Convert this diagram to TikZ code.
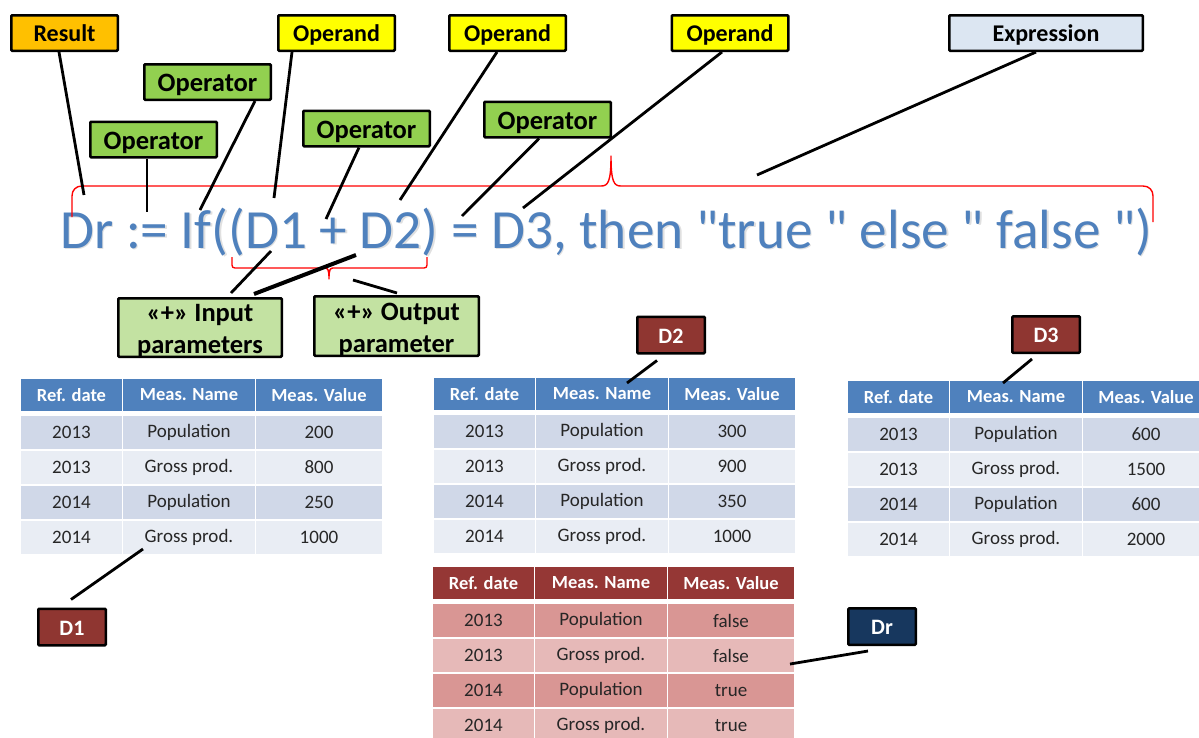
\documentclass[tikz,border=0pt]{standalone}
\usepackage{fontspec}
\setmainfont{Carlito}
\newfontfamily\formulafont{Carlito}[Ligatures=TeXOff]
\usetikzlibrary{calc}

\definecolor{resultOrange}{HTML}{FFC000}
\definecolor{operandYellow}{HTML}{FFFF00}
\definecolor{operatorGreen}{HTML}{92D050}
\definecolor{exprBlue}{HTML}{DCE6F2}
\definecolor{paramGreen}{HTML}{C3E2A2}
\definecolor{dataRed}{HTML}{8F3631}
\definecolor{dataNavy}{HTML}{17375E}
\definecolor{formulaBlue}{HTML}{4F81BD}
\definecolor{blueHead}{HTML}{4F81BD}
\definecolor{blueDark}{HTML}{D0D8E8}
\definecolor{blueLight}{HTML}{E9EDF4}
\definecolor{redHead}{HTML}{953735}
\definecolor{redDark}{HTML}{D99694}
\definecolor{redLight}{HTML}{E6B9B8}
\definecolor{cellText}{HTML}{262626}

% one body row of a data table: #1 table, #2 row, #3 centre y, #4 fill, #5 date, #6 name, #7 value
\newcommand\tabrow[7]{%
  \node[cell, fill=#4, minimum width=101pt] (#1-#2-1) at (50.5,#3) {#5};
  \node[cell, fill=#4, minimum width=132pt] (#1-#2-2) at (168,#3) {#6};
  \node[cell, fill=#4, minimum width=126pt] (#1-#2-3) at (298,#3) {#7};
}
% a whole data table: #1 name, #2 left, #3 top, #4 palette, #5-#8 measure values
\newcommand\datatable[8]{%
  \begin{scope}[shift={(#2,#3)}]
    \node[head, fill=#4Head, minimum width=101pt] (#1-0-1) at (50.5,16) {Ref. date};
    \node[head, fill=#4Head, minimum width=132pt] (#1-0-2) at (168,16) {Meas. Name};
    \node[head, fill=#4Head, minimum width=126pt] (#1-0-3) at (298,16) {Meas. Value};
    \tabrow{#1}{1}{53.5}{#4Dark}{2013}{Population}{#5}
    \tabrow{#1}{2}{88.5}{#4Light}{2013}{Gross prod.}{#6}
    \tabrow{#1}{3}{123.5}{#4Dark}{2014}{Population}{#7}
    \tabrow{#1}{4}{158.5}{#4Light}{2014}{Gross prod.}{#8}
  \end{scope}%
}

\begin{document}
\begin{tikzpicture}[x=1pt,y=-1pt,
  tag/.style={draw=black, line width=2.5pt, rounded corners=1pt, inner sep=0pt,
    minimum height=35.5pt, text height=17.5pt, text depth=0pt,
    font=\bfseries\fontsize{24}{28}\selectfont},
  optag/.style={tag, fill=operatorGreen, minimum width=126.5pt, text height=19pt,
    font=\bfseries\fontsize{26.5}{30}\selectfont},
  paramtag/.style={tag, fill=paramGreen, align=center, text height=52pt, text depth=0pt,
    font=\bfseries\fontsize{26.5}{32}\selectfont},
  datatag/.style={tag, text=white, minimum width=67.5pt, minimum height=36.5pt,
    text height=16pt, font=\bfseries\fontsize{22}{26}\selectfont},
  head/.style={inner sep=0pt, minimum height=32pt, text=white,
    font=\bfseries\fontsize{18.5}{22}\selectfont},
  cell/.style={inner sep=0pt, minimum height=33pt, text=cellText,
    font=\fontsize{19}{22}\selectfont},
  lead/.style={draw=black, line width=2.8pt},
  brace/.style={draw=red, line width=1.4pt, line join=round},
  formula/.style={anchor=base west, inner sep=0pt, font=\formulafont\fontsize{55.3}{60}\selectfont}
]
\useasboundingbox (0,0) rectangle (1199,737);

% ---- data tables ----
\datatable{tD1}{21}{379}{blue}{200}{800}{250}{1000}
\datatable{tD2}{434}{378}{blue}{300}{900}{350}{1000}
\datatable{tD3}{848}{381}{blue}{600}{1500}{600}{2000}
\datatable{tDr}{433}{567}{red}{false}{false}{true}{true}

% ---- the expression ----
\node[formula, text=black, opacity=0.12] (shadow) at (61.5,249.8)
  {Dr := If((D1 + D2) = D3, then "true " else " false ")};
\node[formula, text=formulaBlue] (formula) at (60,248)
  {Dr := If((D1 + D2) = D3, then "true " else " false ")};

% ---- braces ----
\draw[brace] (72,217) -- (72,196) .. controls (72,190) and (76,186) .. (82,186)
  -- (601,186) .. controls (608,186) and (611,182) .. (611,156)
  .. controls (611,182) and (614,186) .. (621,186)
  -- (1143,186) .. controls (1149,186) and (1153,190) .. (1153,196) -- (1153,222);
\draw[brace] (232,257) -- (232,265) .. controls (232,267) and (233,268) .. (235,268)
  -- (325,268) .. controls (328,268) and (329,270) .. (329,279)
  .. controls (329,270) and (330,268) .. (333,268)
  -- (424,268) .. controls (426,268) and (427,267) .. (427,265) -- (427,257);

% ---- labels ----
\node[tag, fill=resultOrange, minimum width=106.5pt] (result) at (64.5,33) {Result};
\node[tag, fill=operandYellow, minimum width=116.5pt] (opdA) at (336.5,33) {Operand};
\node[tag, fill=operandYellow, minimum width=116.5pt] (opdB) at (507.5,33) {Operand};
\node[tag, fill=operandYellow, minimum width=116.5pt] (opdC) at (730,33) {Operand};
\node[tag, fill=exprBlue, minimum width=193.5pt] (expr) at (1046,33) {Expression};
\node[optag] (opA) at (207.5,82) {Operator};
\node[optag] (opB) at (153.5,139.5) {Operator};
\node[optag] (opC) at (366.5,128.5) {Operator};
\node[optag] (opD) at (547.5,119.5) {Operator};
\node[paramtag, minimum width=163.5pt, minimum height=58.5pt] (inp) at (200,327.5)
  {«+» Input\\parameters};
\node[paramtag, minimum width=164.5pt, minimum height=59.5pt] (outp) at (396.5,326)
  {«+» Output\\parameter};
\node[datatag, fill=dataRed] (d1) at (72,627) {D1};
\node[datatag, fill=dataRed] (d2) at (671,335) {D2};
\node[datatag, fill=dataRed] (d3) at (1046,334.5) {D3};
\node[datatag, fill=dataNavy] (dr) at (882,626.5) {Dr};

% ---- leader ends ----
\coordinate (pResult) at (84,195);
\coordinate (pAssign) at (147,212);
\coordinate (pIf) at (200,210);
\coordinate (pD1) at (274,198);
\coordinate (pPlus) at (326,219);
\coordinate (pD2) at (400,200);
\coordinate (pEq) at (462,216);
\coordinate (pD3) at (523,208);
\coordinate (pExpr) at (757,175);
\coordinate (pIn1) at (271,251);
\coordinate (pIn2) at (356,255);
\coordinate (pOut) at (353,280);
\coordinate (pTabD1) at (143,549);
\coordinate (pTabD2) at (627,383);
\coordinate (pTabD3) at (1003,383);
\coordinate (pTabDr) at (790,664);

% ---- leaders ----
\draw[lead] ([xshift=-5.5pt]result.south) -- (pResult);
\draw[lead] ([xshift=-6.5pt]opB.south) -- (pAssign);
\draw[lead] ([xshift=47.5pt]opA.south) -- (pIf);
\draw[lead] ([xshift=-44.5pt]opdA.south) -- (pD1);
\draw[lead] ([xshift=-7.5pt]opC.south) -- (pPlus);
\draw[lead] ([xshift=-10.5pt]opdB.south) -- (pD2);
\draw[lead] ([xshift=-8.5pt]opD.south) -- (pEq);
\draw[lead] ([xshift=-8pt]opdC.south) -- (pD3);
\draw[lead] ([xshift=-10pt]expr.south) -- (pExpr);
\draw[lead] ([xshift=31pt,yshift=4pt]inp.north) -- (pIn1);
\draw[lead, line width=4pt] ([xshift=54pt,yshift=3pt]inp.north) -- (pIn2);
\draw[lead] ([xshift=0.5pt,yshift=2pt]outp.north) -- (pOut);
\draw[lead] ([xshift=-1pt,yshift=8pt]d1.north) -- (pTabD1);
\draw[lead] ([xshift=-14pt,yshift=-6pt]d2.south) -- (pTabD2);
\draw[lead] ([xshift=-14pt,yshift=-5pt]d3.south) -- (pTabD3);
\draw[lead] ([xshift=-14pt,yshift=-5pt]dr.south) -- (pTabDr);
\end{tikzpicture}
\end{document}
